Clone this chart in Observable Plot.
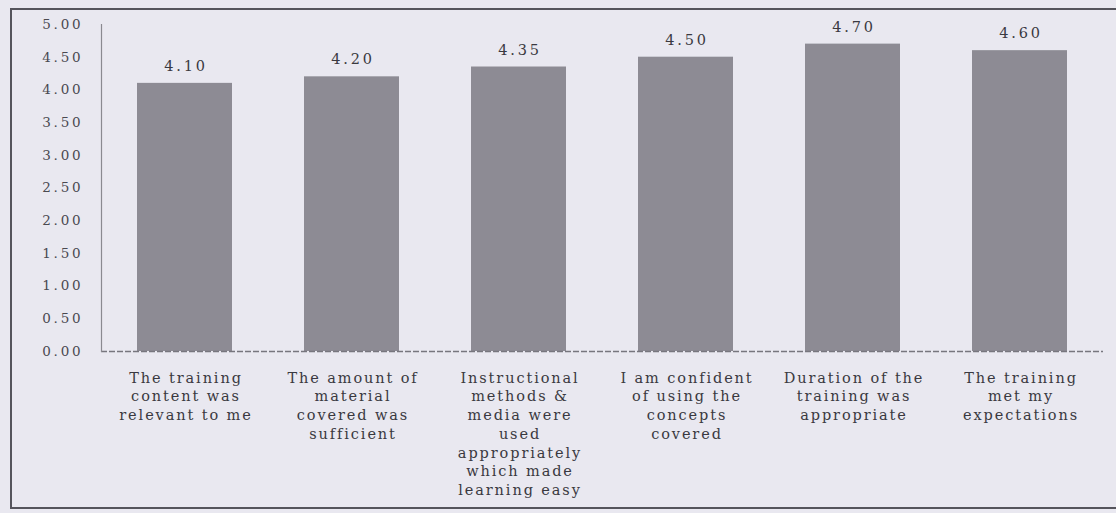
<!DOCTYPE html>
<html>
<head>
<meta charset="utf-8">
<script src="https://cdn.jsdelivr.net/npm/d3@7"></script>
<script src="https://cdn.jsdelivr.net/npm/@observablehq/plot@0.6"></script>
<style>
  html, body { margin: 0; padding: 0; background: #e9e8f0; }
  #wrap { position: relative; width: 1116px; height: 513px; overflow: hidden; }
  #border { position: absolute; left: 10px; top: 8px; width: 1120px; height: 501px;
            border: 2px solid #55545c; box-sizing: border-box; }
  g[aria-label="x-axis tick label"] { letter-spacing: 1.9px; }
  g[aria-label="y-axis tick label"] { letter-spacing: 2.8px; }
  g[aria-label="text"] { letter-spacing: 2.8px; }
</style>
</head>
<body>
<div id="wrap"><div id="border"></div></div>
<script>
const categories = [
  "The training\ncontent was\nrelevant to me",
  "The amount of\nmaterial\ncovered was\nsufficient",
  "Instructional\nmethods &\nmedia were\nused\nappropriately\nwhich made\nlearning easy",
  "I am confident\nof using the\nconcepts\ncovered",
  "Duration of the\ntraining was\nappropriate",
  "The training\nmet my\nexpectations"
];
const values = [4.10, 4.20, 4.35, 4.50, 4.70, 4.60];
const yTicks = [0, 0.5, 1, 1.5, 2, 2.5, 3, 3.5, 4, 4.5, 5];

const data = categories.map((c, i) => ({category: c, value: values[i]}));
const fmt = d3.format(".2f");

const chart = Plot.plot({
  width: 1116,
  height: 513,
  marginLeft: 101,
  marginRight: 13,
  marginTop: 24,
  marginBottom: 162,
  style: {background: "transparent", fontFamily: "'DejaVu Serif', 'Liberation Serif', serif", color: "#3a3940"},
  x: {domain: categories, paddingInner: 0.43, paddingOuter: 0.2, label: null},
  y: {domain: [0, 5], label: null},
  marks: [
    Plot.barY(data, {x: "category", y: "value", fill: "#8d8b94"}),
    Plot.ruleY([0], {stroke: "#77767e", strokeWidth: 1.5, strokeDasharray: "6,2"}),
    Plot.frame({anchor: "left", stroke: "#8a8990", strokeWidth: 1.2}),
    Plot.text(data, {x: "category", y: "value", text: d => fmt(d.value), dy: -17, dx: 1,
      fontSize: 14.5, fill: "#3a3940"}),
    Plot.axisY({ticks: yTicks, tickFormat: fmt, tickSize: 0, tickPadding: 18,
      fontSize: 13.5, fill: "#4a4950"}),
    Plot.axisX({tickSize: 0, tickPadding: 18, fontSize: 14.5, lineHeight: 1.29, dx: 1,
      tickFormat: d => d, fill: "#3a3940"})
  ]
});
document.getElementById("wrap").prepend(chart);
</script>
</body>
</html>
